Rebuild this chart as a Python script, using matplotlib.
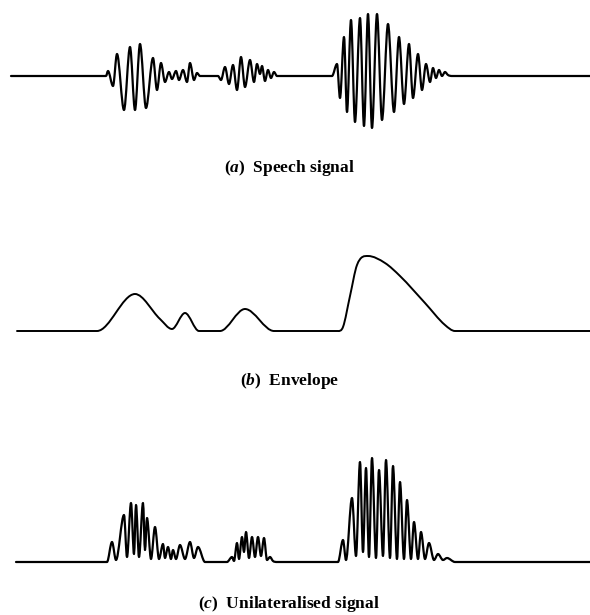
import numpy as np
import matplotlib
matplotlib.use('Agg')
import matplotlib.pyplot as plt
from matplotlib.path import Path
from matplotlib.patches import PathPatch

plt.rcParams['mathtext.fontset'] = 'custom'
plt.rcParams['mathtext.rm'] = 'Liberation Serif:bold'
plt.rcParams['mathtext.it'] = 'Liberation Serif:italic:bold'

# (a) speech signal: turning points (time, amplitude)
speech_t = [11, 106, 108, 113, 117, 124, 130, 135, 140, 146, 153, 157, 161, 165, 169, 172, 176,
            179, 183, 187, 190, 194, 197, 200, 218, 221, 225, 229, 233, 237, 241, 245, 250, 254,
            257, 260, 262, 265, 268, 271, 274, 277, 332, 337, 340, 344, 347, 351, 355, 360, 364,
            368, 372, 377, 382, 388, 394, 399, 404, 409, 413, 418, 422, 426, 430, 433, 436, 439,
            442, 445, 448, 452, 590]
speech_a = [0, 0, 5, -10, 22, -34, 29, -34, 32, -32, 18, -14, 13, -6, 4, -3, 5,
            -4, 6, -6, 13, -4, 3, 0, 0, -4, 9, -8, 11, -14, 19, -11, 16, -6,
            12, 2, 10, -5, 6, -2, 4, 0, 0, 12, -22, 39, -36, 56, -46, 58, -50,
            62, -52, 62, -44, 52, -36, 39, -28, 32, -22, 22, -14, 12, -6, 8, -2, 6,
            0, 4, 1, 0, 0]

# (b) envelope
env_t = [17, 97, 135, 160, 172, 185, 199, 220, 245, 274, 338, 343, 350, 357, 368, 385, 400,
         425, 445, 455, 590]
env_a = [0, 0, 37, 12, 2, 18, 0, 0, 22, 0, 0, 4, 35, 66, 75, 68, 55, 28, 6, 0, 0]

# (c) unilateralised signal
uni_t = [16, 107, 112, 116, 124, 127, 131, 134, 136, 139, 143, 145, 147, 151, 155, 159, 163, 165,
         168, 171, 173, 176, 180, 185, 190, 194, 198, 205, 227, 232, 234, 237, 239, 242, 244,
         246, 249, 252, 255, 258, 261, 264, 267, 270, 273, 277, 338, 343, 346, 352, 356, 360,
         363, 366, 369, 372, 376, 379, 383, 386, 390, 393, 397, 400, 404, 407, 411, 414, 418,
         421, 425, 429, 434, 438, 443, 447, 455, 590]
uni_a = [0, 0, 20, 2, 47, 5, 59, 8, 57, 5, 59, 12, 44, 3, 35, 3, 18, 4,
         15, 3, 12, 3, 17, 3, 20, 4, 15, 0, 0, 5, 1, 19, 3, 25, 10,
         30, 4, 25, 5, 25, 6, 24, 2, 5, 1, 0, 0, 22, 2, 64, 6, 100,
         10, 94, 5, 104, 4, 92, 6, 102, 4, 96, 3, 80, 3, 62, 3, 40, 3,
         30, 3, 19, 2, 8, 2, 4, 0, 0]

labels = ['(' + r'$\mathit{a}$' + ')  Speech signal',
          '(' + r'$\mathit{b}$' + ')  Envelope',
          '(' + r'$\mathit{c}$' + ')  Unilateralised signal']


def smooth_path(xs, ys):
    xs = np.asarray(xs, float)
    ys = np.asarray(ys, float)
    n = len(xs)
    m = np.zeros(n)
    for i in range(1, n - 1):
        d0 = (ys[i] - ys[i-1]) / (xs[i] - xs[i-1])
        d1 = (ys[i+1] - ys[i]) / (xs[i+1] - xs[i])
        if d0 * d1 > 0:
            m[i] = (d0 + d1) / 2
    verts = [(xs[0], ys[0])]
    codes = [Path.MOVETO]
    for i in range(n - 1):
        h = (xs[i+1] - xs[i]) / 3
        verts += [(xs[i] + h, ys[i] + m[i]*h), (xs[i+1] - h, ys[i+1] - m[i+1]*h), (xs[i+1], ys[i+1])]
        codes += [Path.CURVE4] * 3
    return Path(verts, codes)


fig = plt.figure(figsize=(5.9, 6.15), dpi=100)
H = 615.0

# axes: (top px, bottom px, ylim)
panels = [(0, 152, (-76, 76), speech_t, speech_a, 1.6),
          (230, 340, (-9, 101), env_t, env_a, 1.4),
          (440, 575, (-13, 122), uni_t, uni_a, 1.6)]
for top, bot, yl, t, a, lw in panels:
    ax = fig.add_axes([0, 1 - bot/H, 1, (bot - top)/H])
    ax.set_xlim(0, 590)
    ax.set_ylim(*yl)
    ax.axis('off')
    ax.add_patch(PathPatch(smooth_path(t, a), fill=False, lw=lw, color='black',
                           joinstyle='round', capstyle='round'))

label_y = [168, 381, 604]
for lab, y in zip(labels, label_y):
    fig.text(0.49, 1 - y/H, lab, ha='center', va='center', fontsize=12.5,
             family='Liberation Serif', weight='bold')

fig.savefig('out.png', dpi=100)
